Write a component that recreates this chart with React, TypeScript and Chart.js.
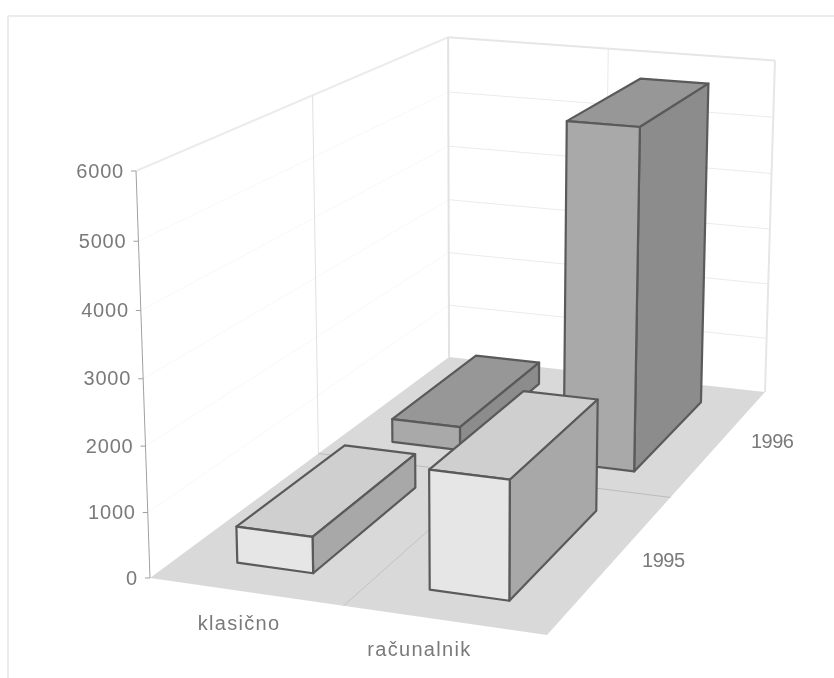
import React, { useEffect, useRef } from "react";
import { Chart, registerables } from "chart.js";

Chart.register(...registerables);

const methods = ["klasično", "računalnik"];
const years = ["1995", "1996"];
const values1995 = [560, 1810];
const values1996 = [400, 5700];
const valueTicks = [0, 1000, 2000, 3000, 4000, 5000, 6000];

const WIDTH = 834;
const HEIGHT = 678;

// Fraction of a category taken by a box along each floor direction.
const BOX_WIDTH = 0.4;
const BOX_DEPTH = 2 / 3;

// Camera: floor corners on the canvas, plus the vanishing point of the uprights.
const FLOOR = { fl: [150, 578], fr: [547, 635], br: [765, 392], bl: [449, 357] };
const VANISH = [475, 10050];
const TOP_FRONT_LEFT_Y = 171;

const TEXT = "#7a7a7a";
const FONT = '20px "Liberation Sans", Arial, sans-serif';

type Shade = { front: string; side: string; top: string };
const SHADES: Shade[] = [
  { front: "#e6e6e6", side: "#a8a8a8", top: "#cfcfcf" },
  { front: "#a9a9a9", side: "#8c8c8c", top: "#979797" },
];

function makeProjector() {
  const [x0, y0] = FLOOR.fl;
  const [x1, y1] = FLOOR.fr;
  const [x2, y2] = FLOOR.br;
  const [x3, y3] = FLOOR.bl;
  const dx1 = x1 - x2, dx2 = x3 - x2, sx = x0 - x1 + x2 - x3;
  const dy1 = y1 - y2, dy2 = y3 - y2, sy = y0 - y1 + y2 - y3;
  const den = dx1 * dy2 - dx2 * dy1;
  const g = (sx * dy2 - dx2 * sy) / den;
  const h = (dx1 * sy - sx * dy1) / den;
  const a = x1 - x0 + g * x1, b = x3 - x0 + h * x3;
  const d = y1 - y0 + g * y1, e = y3 - y0 + h * y3;
  const k = (TOP_FRONT_LEFT_Y - y0) / (VANISH[1] - TOP_FRONT_LEFT_Y);
  // u: across the categories, v: into the depth, w: up the value axis (all 0..1).
  return (u: number, v: number, w: number): [number, number] => {
    const q = g * u + h * v + 1 + w * k;
    return [
      (a * u + b * v + x0 + w * k * VANISH[0]) / q,
      (d * u + e * v + y0 + w * k * VANISH[1]) / q,
    ];
  };
}

const project = makeProjector();

const poly = (ctx: CanvasRenderingContext2D, pts: [number, number][], fill: string | null, stroke?: string, lw = 1) => {
  ctx.beginPath();
  pts.forEach((p, i) => (i ? ctx.lineTo(p[0], p[1]) : ctx.moveTo(p[0], p[1])));
  ctx.closePath();
  if (fill) {
    ctx.fillStyle = fill;
    ctx.fill();
  }
  if (stroke) {
    ctx.strokeStyle = stroke;
    ctx.lineWidth = lw;
    ctx.lineJoin = "round";
    ctx.stroke();
  }
};

const line = (ctx: CanvasRenderingContext2D, a: [number, number], b: [number, number], color: string, lw = 1) => {
  ctx.beginPath();
  ctx.moveTo(a[0], a[1]);
  ctx.lineTo(b[0], b[1]);
  ctx.strokeStyle = color;
  ctx.lineWidth = lw;
  ctx.stroke();
};

const label = (ctx: CanvasRenderingContext2D, text: string, x: number, y: number, align: CanvasTextAlign, spacing: string) => {
  ctx.font = FONT;
  ctx.fillStyle = TEXT;
  ctx.textAlign = align;
  ctx.textBaseline = "middle";
  (ctx as any).letterSpacing = spacing;
  ctx.fillText(text, x, y);
  (ctx as any).letterSpacing = "0px";
};

// Paints the walls, floor, boxes and labels in perspective, reading every position from the scales.
const perspectiveBars = {
  id: "perspectiveBars",
  beforeDatasetsDraw(chart: any) {
    const ctx: CanvasRenderingContext2D = chart.ctx;
    const xs = chart.scales.x;
    const ys = chart.scales.y;
    const zs = chart.scales.depth;
    const fracX = (i: number) => xs.getDecimalForPixel(xs.getPixelForValue(i));
    const fracZ = (i: number) => zs.getDecimalForPixel(zs.getPixelForValue(i));
    const fracY = (v: number) => 1 - (ys.getPixelForValue(v) - ys.top) / (ys.bottom - ys.top);
    const halfU = (fracX(1) - fracX(0)) / 2;
    const halfV = (fracZ(1) - fracZ(0)) / 2;

    ctx.save();

    // Page frame
    line(ctx, [8, 16], [WIDTH, 16], "#ececec", 2);
    line(ctx, [8, 16], [8, HEIGHT], "#ebebeb", 2);

    // Floor
    poly(ctx, [project(0, 0, 0), project(1, 0, 0), project(1, 1, 0), project(0, 1, 0)], "#d9d9d9");

    // Wall grid
    valueTicks.forEach((t) => {
      if (t === 0) return;
      const w = fracY(t);
      line(ctx, project(0, 0, w), project(0, 1, w), t === 6000 ? "#ececec" : "#f8f8f8", t === 6000 ? 2 : 1);
      line(ctx, project(0, 1, w), project(1, 1, w), t === 6000 ? "#e6e6e6" : "#ebebeb", t === 6000 ? 2 : 1);
    });
    line(ctx, project(0, 0.5, 0), project(0, 0.5, 1), "#e0e0e0");
    line(ctx, project(0.5, 1, 0), project(0.5, 1, 1), "#e8e8e8");
    line(ctx, project(0, 1, 0), project(0, 1, 1), "#e2e2e2", 2);
    line(ctx, project(1, 1, 0), project(1, 1, 1), "#e6e6e6", 2);

    // Floor dividers between categories and years
    line(ctx, project(0.5, 0, 0), project(0.5, 1, 0), "#c2c2c2");
    line(ctx, project(0, 0.5, 0), project(1, 0.5, 0), "#bcbcbc");

    // Value axis with its ticks
    line(ctx, project(0, 0, 0), project(0, 0, 1), "#a0a0a0");
    ys.ticks.forEach((tick: any) => {
      const p = project(0, 0, fracY(tick.value));
      line(ctx, [p[0] - 5, p[1]], p, "#a0a0a0");
      label(ctx, String(tick.value), p[0] - 12, p[1] + 1, "right", "0.8px");
    });

    // Boxes, painted from the back row to the front
    for (let ds = chart.data.datasets.length - 1; ds >= 0; ds--) {
      const data: number[] = chart.data.datasets[ds].data;
      const shade = SHADES[ds];
      data.forEach((value, i) => {
        const u0 = fracX(i) - halfU * BOX_WIDTH, u1 = fracX(i) + halfU * BOX_WIDTH;
        const v0 = fracZ(ds) - halfV * BOX_DEPTH, v1 = fracZ(ds) + halfV * BOX_DEPTH;
        const w = fracY(value);
        poly(ctx, [project(u0, v0, w), project(u1, v0, w), project(u1, v1, w), project(u0, v1, w)], shade.top, "#5a5a5a", 2.2);
        poly(ctx, [project(u1, v0, 0), project(u1, v1, 0), project(u1, v1, w), project(u1, v0, w)], shade.side, "#5a5a5a", 2.2);
        poly(ctx, [project(u0, v0, 0), project(u1, v0, 0), project(u1, v0, w), project(u0, v0, w)], shade.front, "#5a5a5a", 2.2);
      });
    }

    // Category labels below the front edge, year labels beyond the right edge
    methods.forEach((name, i) => {
      const p = project(0.098 + 0.884 * fracX(i), -0.091, 0);
      label(ctx, name, p[0], p[1] + 1, "center", "1.3px");
    });
    years.forEach((name, i) => {
      const p = project(1.102 + 0.044 * fracZ(i), fracZ(i) + 0.025, 0);
      label(ctx, name, p[0], p[1] + 1, "center", "-0.5px");
    });

    ctx.restore();
    return false;
  },
};

export default function App() {
  const ref = useRef<HTMLCanvasElement>(null);

  useEffect(() => {
    document.body.style.margin = "0";
    const chart = new Chart(ref.current!, {
      type: "bar",
      data: {
        labels: methods,
        datasets: [
          { label: years[0], data: values1995 },
          { label: years[1], data: values1996 },
        ],
      },
      options: {
        responsive: false,
        animation: false,
        layout: { padding: 0 },
        plugins: { legend: { display: false }, tooltip: { enabled: false }, title: { display: false } },
        scales: {
          x: { type: "category", display: false, offset: true },
          depth: { type: "category", axis: "x", labels: years, display: false, offset: true, position: "bottom" },
          y: { type: "linear", display: false, min: 0, max: 6000, ticks: { stepSize: 1000 } },
        },
      },
      plugins: [perspectiveBars],
    } as any);
    return () => chart.destroy();
  }, []);

  return <canvas ref={ref} width={WIDTH} height={HEIGHT} style={{ display: "block", background: "#fff" }} />;
}
